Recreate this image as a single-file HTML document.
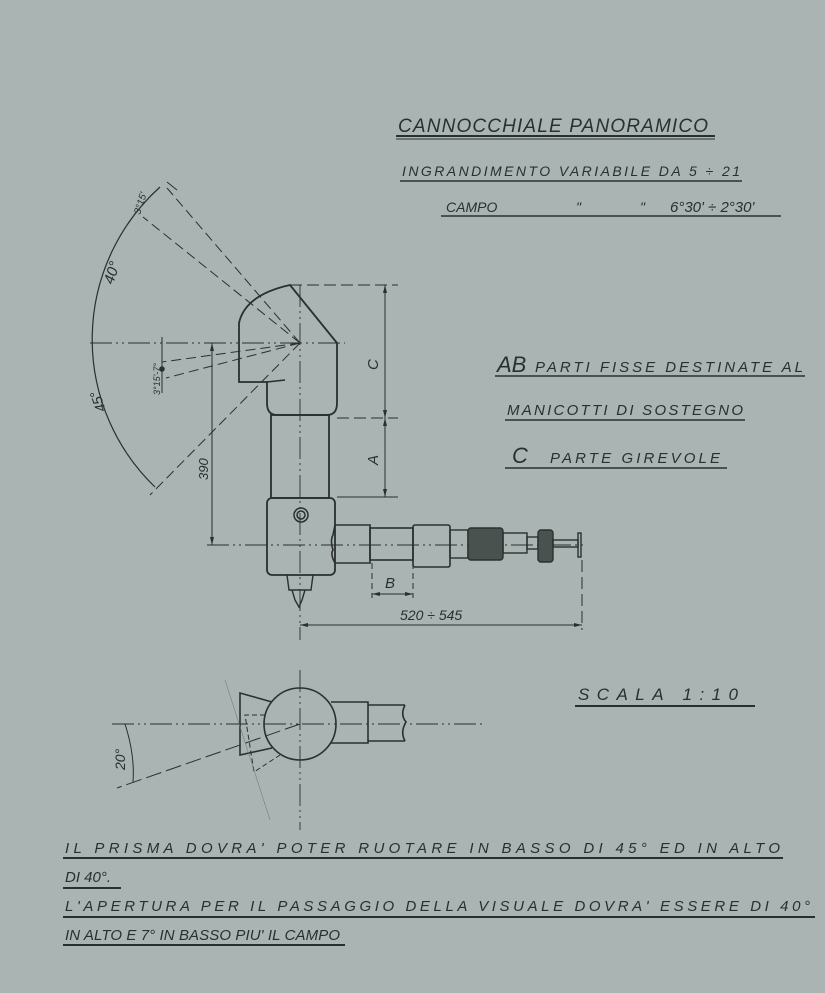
<!DOCTYPE html>
<html><head><meta charset="utf-8"><style>
html,body{margin:0;padding:0;background:#a9b4b3;}
svg{display:block}
text{font-family:"Liberation Sans",sans-serif;font-style:italic;fill:#2a302f;}
</style></head><body>
<svg width="825" height="993" viewBox="0 0 825 993" xmlns="http://www.w3.org/2000/svg">
<rect width="825" height="993" fill="#a9b4b3"/>
<g stroke="#2a302f" fill="none" stroke-width="1.5">
<!-- title underlines -->
<line x1="396" y1="136" x2="715" y2="136" stroke-width="2"/>
<line x1="396" y1="139" x2="715" y2="139" stroke-width="1"/>
<line x1="400" y1="181" x2="742" y2="181"/>
<line x1="441" y1="216" x2="781" y2="216"/>
<line x1="495" y1="376" x2="805" y2="376"/>
<line x1="505" y1="420" x2="745" y2="420"/>
<line x1="505" y1="468" x2="727" y2="468"/>
<line x1="575" y1="706" x2="755" y2="706" stroke-width="2"/>
<line x1="63" y1="858" x2="783" y2="858" stroke-width="2"/>
<line x1="63" y1="888" x2="121" y2="888" stroke-width="2"/>
<line x1="63" y1="917" x2="815" y2="917" stroke-width="2"/>
<line x1="63" y1="945" x2="345" y2="945" stroke-width="2"/>

<!-- centerlines -->
<g stroke-width="0.9" stroke-dasharray="22 4 2 4 2 4">
<line x1="300" y1="285" x2="300" y2="640"/>
<line x1="207" y1="545" x2="587" y2="545"/>
<line x1="90" y1="343" x2="345" y2="343"/>
<line x1="300" y1="670" x2="300" y2="830"/>
<line x1="112" y1="724" x2="485" y2="724"/>
</g>

<!-- arc -->
<path d="M160,187 A205,205 0 0 0 155,487" stroke-width="1.2"/>
<g stroke-width="1" stroke-dasharray="10 5">
<line x1="300" y1="343" x2="167" y2="188"/>
<line x1="300" y1="343" x2="143" y2="217"/>
<line x1="300" y1="343" x2="150" y2="495"/>
<line x1="300" y1="343" x2="162" y2="362"/>
<line x1="300" y1="343" x2="166" y2="378"/>
</g>
<line x1="177" y1="190" x2="167" y2="182" stroke-width="1"/>
<line x1="162" y1="337" x2="162" y2="393" stroke-width="1"/>
<circle cx="162" cy="369" r="2" fill="#2a302f"/>

<!-- head -->
<path d="M239,382 L239,323 Q245,295 290,285 L337,343 L337,403 Q337,415 327,415 L277,415 Q267,415 267,403 L267,382 Z" stroke-width="1.8"/>
<line x1="267" y1="382" x2="285" y2="380"/>
<!-- tube -->
<rect x="271" y="415" width="58" height="83" stroke-width="1.8"/>
<!-- body -->
<rect x="267" y="498" width="68" height="77" rx="5" stroke-width="1.8"/>
<circle cx="301" cy="515" r="7"/><circle cx="301" cy="515" r="4"/>
<!-- horizontal arm -->
<path d="M335,525 L370,525 L370,563 L335,563 Q330,554 333,550 Q330,540 333,535 Z" stroke-width="1.6"/>
<rect x="370" y="528" width="43" height="32" stroke-width="1.6"/>
<rect x="413" y="525" width="37" height="42" rx="2" stroke-width="1.6"/>
<rect x="450" y="530" width="18" height="28" stroke-width="1.4"/>
<rect x="468" y="528" width="35" height="32" rx="3" fill="#4a5250" stroke-width="1.4"/>
<rect x="503" y="533" width="24" height="20" stroke-width="1.4"/>
<rect x="527" y="537" width="11" height="12" stroke-width="1.4"/>
<rect x="538" y="530" width="15" height="32" rx="3" fill="#4a5250" stroke-width="1.4"/>
<rect x="553" y="540" width="25" height="7" stroke-width="1.4"/>
<rect x="578" y="533" width="3" height="24" stroke-width="1.4"/>
<!-- nozzle -->
<path d="M287,575 L289,590 L311,590 L313,575 M292,590 L295,600 L299,607 L302,600 L305,590" stroke-width="1.4"/>

<!-- dimensions -->
<g stroke-width="1">
<line x1="290" y1="285" x2="398" y2="285" stroke-dasharray="12 5"/>
<line x1="337" y1="418" x2="398" y2="418" stroke-dasharray="12 5"/>
<line x1="337" y1="497" x2="398" y2="497"/>
<line x1="385" y1="285" x2="385" y2="497"/>
<line x1="212" y1="343" x2="212" y2="545"/>
<line x1="372" y1="563" x2="372" y2="598" stroke-dasharray="6 4"/>
<line x1="413" y1="563" x2="413" y2="598" stroke-dasharray="6 4"/>
<line x1="372" y1="594" x2="413" y2="594"/>
<line x1="300" y1="625" x2="582" y2="625"/>
<line x1="582" y1="560" x2="582" y2="630" stroke-dasharray="12 5"/>
</g>
<g fill="#2a302f" stroke="none">
<path d="M385,285 l-2,8 h4z M385,418 l-2,-8 h4z M385,418 l-2,8 h4z M385,497 l-2,-8 h4z"/>
<path d="M212,343 l-2,8 h4z M212,545 l-2,-8 h4z"/>
<path d="M372,594 l8,-2 v4z M413,594 l-8,-2 v4z M300,625 l8,-2 v4z M582,625 l-8,-2 v4z"/>
</g>

<!-- bottom view -->
<circle cx="300" cy="724" r="36" stroke-width="1.6"/>
<path d="M331,702 L368,702 L368,743 L331,743 M368,705 L405,705 M368,741 L405,741 M405,705 Q400,715 406,722 Q400,732 405,741" stroke-width="1.6"/>
<path d="M272,702 L240,693 L240,755 L272,748" stroke-width="1.6"/>
<path d="M265,715 L245,715 L254,772 L280,755" stroke-width="1" stroke-dasharray="5 3"/>
<line x1="300" y1="724" x2="117" y2="788" stroke-width="1" stroke-dasharray="16 5"/>
<line x1="225" y1="680" x2="270" y2="820" stroke-width="0.5" stroke="#6a7270"/>
<path d="M125,724 Q135,755 133,782" stroke-width="1"/>
</g>

<!-- texts -->
<text x="398" y="132" font-size="19" textLength="310">CANNOCCHIALE    PANORAMICO</text>
<text x="402" y="176" font-size="14" textLength="338">INGRANDIMENTO   VARIABILE   DA    5 ÷ 21</text>
<text x="446" y="212" font-size="14">CAMPO</text>
<text x="576" y="212" font-size="14">"</text>
<text x="640" y="212" font-size="14">"</text>
<text x="670" y="212" font-size="15">6°30' ÷ 2°30'</text>
<text x="497" y="372" font-size="22">AB</text>
<text x="535" y="372" font-size="15" textLength="268">PARTI FISSE DESTINATE  AL</text>
<text x="507" y="415" font-size="15" textLength="236">MANICOTTI  DI  SOSTEGNO</text>
<text x="512" y="463" font-size="22">C</text>
<text x="550" y="463" font-size="15" textLength="170">PARTE  GIREVOLE</text>
<text x="578" y="700" font-size="17" font-style="normal" textLength="160">SCALA  1:10</text>
<text x="65" y="853" font-size="15" textLength="715">IL PRISMA  DOVRA'  POTER   RUOTARE   IN  BASSO   DI   45°  ED  IN  ALTO</text>
<text x="65" y="882" font-size="15">DI  40°.</text>
<text x="65" y="911" font-size="15" textLength="745">L'APERTURA   PER IL  PASSAGGIO  DELLA  VISUALE  DOVRA'  ESSERE   DI  40°</text>
<text x="65" y="940" font-size="15" textLength="275">IN  ALTO   E  7° IN BASSO   PIU'  IL  CAMPO</text>
<text font-size="15" transform="translate(378,370) rotate(-90)">C</text>
<text font-size="15" transform="translate(378,465) rotate(-90)">A</text>
<text x="385" y="588" font-size="15">B</text>
<text x="400" y="620" font-size="14" font-style="normal">520 ÷ 545</text>
<text font-size="13" font-style="normal" transform="translate(208,480) rotate(-90)">390</text>
<text font-size="15" font-style="normal" transform="translate(113,285) rotate(-72)">40°</text>
<text font-size="14" font-style="normal" transform="translate(106,410) rotate(-110)">45°</text>
<text font-size="10" transform="translate(140,215) rotate(-72)">3°15'</text>
<text font-size="9" transform="translate(160,395) rotate(-90)">3°15'-7°</text>
<text font-size="14" font-style="normal" transform="translate(125,770) rotate(-90)">20°</text>
</svg>
</body></html>
